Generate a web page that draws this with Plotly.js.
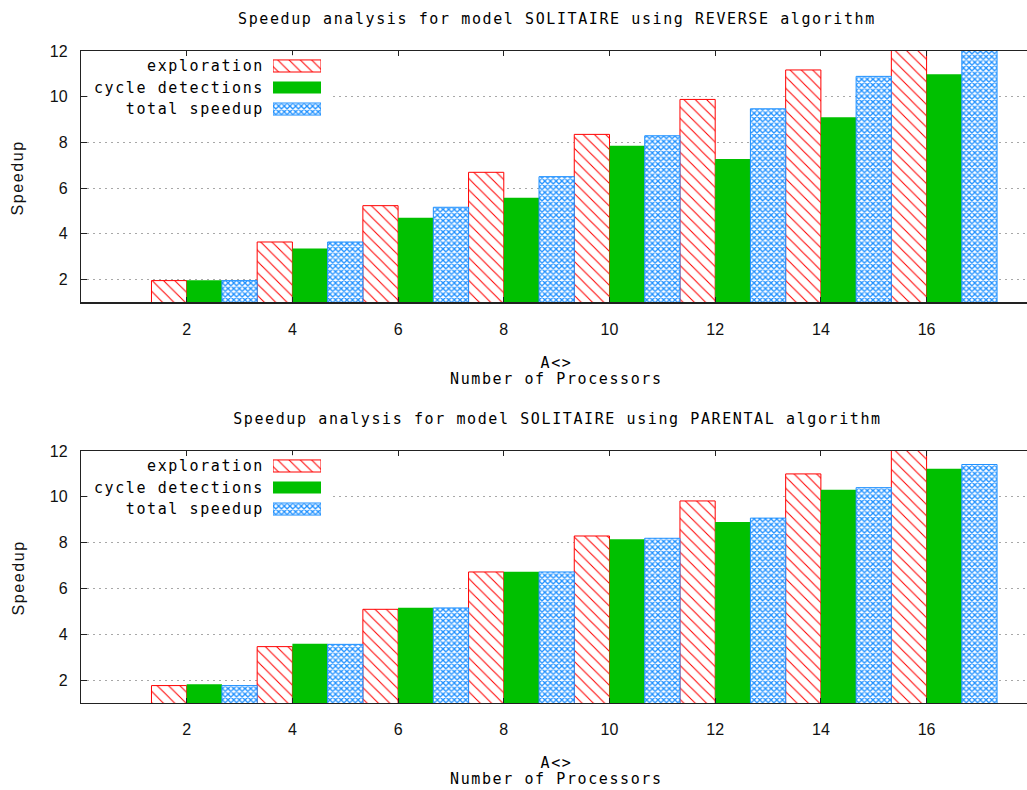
<!DOCTYPE html>
<html>
<head>
<meta charset="utf-8">
<script src="https://cdn.plot.ly/plotly-3.0.1.min.js"></script>
<style>
  html, body { margin: 0; padding: 0; background: #fff; }
  #chart { width: 1027px; height: 790px; }
  .js-plotly-plot .annotation-text { letter-spacing: 1.6px; }
  .js-plotly-plot .y3tick text, .js-plotly-plot .y4tick text { letter-spacing: 1.6px; }
</style>
</head>
<body>
<div id="chart"></div>
<script>
// ---------------- data ----------------
const PROCS = [2, 4, 6, 8, 10, 12, 14, 16];
const SERIES = ['exploration', 'cycle detections', 'total speedup'];
const Y_TICKS = [2, 4, 6, 8, 10, 12];

const REV_EXPLORATION = [1.95, 3.64, 5.23, 6.69, 8.35, 9.88, 11.17, 12.4];
const REV_CYCLE       = [1.97, 3.36, 4.70, 5.58, 7.85, 7.27, 9.10, 10.98];
const REV_TOTAL       = [1.95, 3.64, 5.16, 6.50, 8.29, 9.47, 10.89, 12.2];

const PAR_EXPLORATION = [1.76, 3.46, 5.09, 6.72, 8.29, 9.82, 11.00, 12.3];
const PAR_CYCLE       = [1.82, 3.59, 5.16, 6.73, 8.15, 8.90, 10.31, 11.23];
const PAR_TOTAL       = [1.76, 3.56, 5.15, 6.72, 8.19, 9.07, 10.40, 11.41];

const TITLES = [
  'Speedup analysis for model SOLITAIRE using REVERSE algorithm',
  'Speedup analysis for model SOLITAIRE using PARENTAL algorithm'
];
const X_TITLE_1 = 'A&lt;&gt;';
const X_TITLE_2 = 'Number of Processors';
const Y_TITLE = 'Speedup';

// ---------------- styles ----------------
const RED = '#ff0000', GREEN = '#00c000', BLUE = '#1e90ff';
const MONO = 'DejaVu Sans Mono';
const SANS = 'Liberation Sans';
const BW = 2 / 3;
const styles = [
  { offset: -BW, marker: { color: '#ffffff', line: { color: RED, width: 1 },
      pattern: { shape: '\\', fgcolor: RED, bgcolor: '#ffffff', size: 8, solidity: 0.13 } } },
  { offset: 0, marker: { color: GREEN, line: { color: GREEN, width: 0 } } },
  { offset: BW, marker: { color: '#ffffff', line: { color: BLUE, width: 1 },
      pattern: { shape: 'x', fgcolor: BLUE, bgcolor: '#ffffff', size: 4, solidity: 0.55 } } }
];

const panels = [
  { data: [REV_EXPLORATION, REV_CYCLE, REV_TOTAL], xa: 'x', ya: 'y', lx: 'x3', ly: 'y3' },
  { data: [PAR_EXPLORATION, PAR_CYCLE, PAR_TOTAL], xa: 'x2', ya: 'y2', lx: 'x4', ly: 'y4' }
];

const traces = [];
panels.forEach(p => {
  p.data.forEach((vals, i) => {
    traces.push({
      type: 'bar', x: PROCS, y: vals, name: SERIES[i],
      xaxis: p.xa, yaxis: p.ya,
      width: BW, offset: styles[i].offset,
      marker: styles[i].marker, showlegend: false, hoverinfo: 'skip'
    });
    // legend sample drawn on a small hidden axis pair
    traces.push({
      type: 'bar', orientation: 'h', y: [SERIES[i]], x: [1],
      xaxis: p.lx, yaxis: p.ly, width: 0.56,
      marker: styles[i].marker, showlegend: false, hoverinfo: 'skip'
    });
  });
});

// ---------------- layout ----------------
const W = 1027, H = 790;
const px = v => v / W;
const py = v => 1 - v / H;

function mainX() {
  return {
    domain: [px(81), 1], range: [0, 17.9], tickvals: PROCS,
    ticks: 'inside', ticklen: 5, tickcolor: '#222',
    showline: true, linecolor: '#222', linewidth: 1.2, mirror: 'ticks',
    showgrid: false, zeroline: false,
    tickfont: { family: SANS, size: 16, color: '#111' }, ticklabelstandoff: 12
  };
}
function mainY(dom, anchor) {
  return {
    domain: dom, range: [1, 12], tickvals: Y_TICKS, anchor: anchor,
    ticks: 'inside', ticklen: 6, tickcolor: '#222',
    showline: true, linecolor: '#222', linewidth: 1.2, mirror: false,
    showgrid: true, gridcolor: '#a8a8a8', gridwidth: 1, griddash: '2px,4px',
    zeroline: false,
    tickfont: { family: SANS, size: 16, color: '#111' }, ticklabelstandoff: 9
  };
}
function legX(dom) {
  return { domain: dom, range: [0, 1], visible: false, fixedrange: true };
}
function legY(dom, anchor) {
  return {
    domain: dom, anchor: anchor, type: 'category', categoryarray: SERIES,
    categoryorder: 'array', autorange: 'reversed',
    showline: false, showgrid: false, zeroline: false, ticks: '',
    tickfont: { family: MONO, size: 15, color: '#000' }, ticklabelstandoff: 8
  };
}

const topDom = [py(302.3), py(51)];
const botDom = [py(703), py(451)];
const legDomX = [px(273), px(321)];
const legTop = [py(119.8), py(55.2)];
const legBot = [py(519.8), py(455.2)];

const annFont = { family: MONO, size: 15, color: '#000' };
const annotations = [];
[0, 400].forEach((off, k) => {
  annotations.push({ text: TITLES[k], xref: 'paper', yref: 'paper', x: px(557), y: py(19 + off),
    xanchor: 'center', yanchor: 'middle', showarrow: false, font: annFont });
  annotations.push({ text: X_TITLE_1, xref: 'paper', yref: 'paper', x: px(556), y: py(363 + off),
    xanchor: 'center', yanchor: 'middle', showarrow: false, font: annFont });
  annotations.push({ text: X_TITLE_2, xref: 'paper', yref: 'paper', x: px(556), y: py(379 + off),
    xanchor: 'center', yanchor: 'middle', showarrow: false, font: annFont });
  annotations.push({ text: Y_TITLE, xref: 'paper', yref: 'paper', x: px(18), y: py(178 + off),
    xanchor: 'center', yanchor: 'middle', textangle: -90, showarrow: false,
    font: { family: SANS, size: 16, color: '#111' } });
});

const legendBg = (xr, yr) => ({
  type: 'rect', layer: 'between', xref: xr, yref: yr,
  x0: 0.13, x1: 4.71, y0: 8.98, y1: 12, fillcolor: '#ffffff', line: { width: 0 }
});

const layout = {
  width: W, height: H,
  margin: { l: 0, r: 0, t: 0, b: 0, pad: 0 },
  paper_bgcolor: '#ffffff', plot_bgcolor: '#ffffff',
  barmode: 'overlay', showlegend: false,
  xaxis: Object.assign(mainX(), { anchor: 'y' }),
  yaxis: mainY(topDom, 'x'),
  xaxis2: Object.assign(mainX(), { anchor: 'y2' }),
  yaxis2: mainY(botDom, 'x2'),
  xaxis3: Object.assign(legX(legDomX), { anchor: 'y3' }),
  yaxis3: legY(legTop, 'x3'),
  xaxis4: Object.assign(legX(legDomX), { anchor: 'y4' }),
  yaxis4: legY(legBot, 'x4'),
  shapes: [legendBg('x', 'y'), legendBg('x2', 'y2')],
  annotations: annotations
};

Plotly.newPlot('chart', traces, layout, { staticPlot: true, displayModeBar: false });
</script>
</body>
</html>
